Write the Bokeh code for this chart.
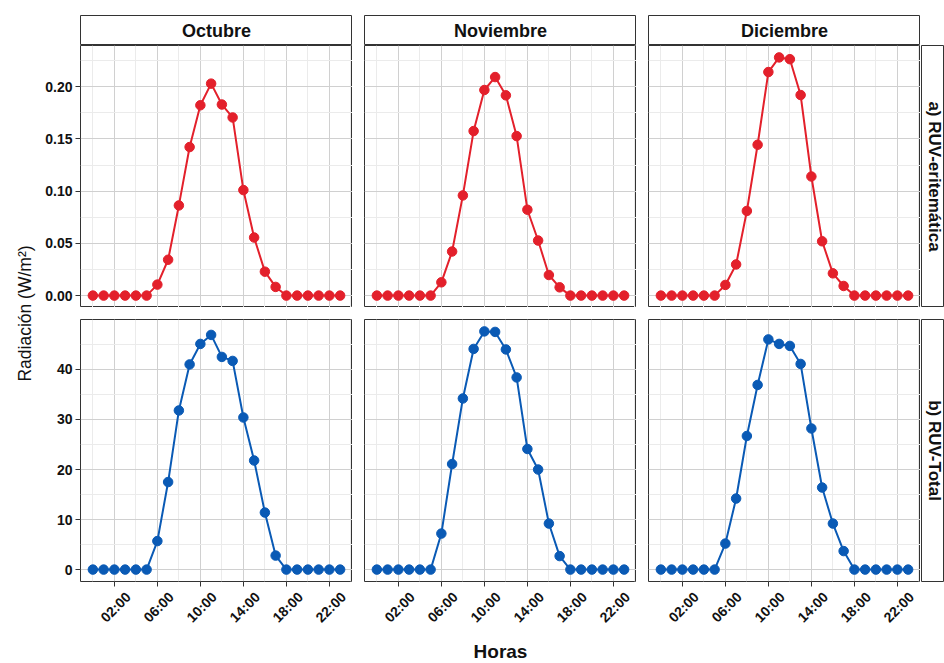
from math import pi

from bokeh.core.properties import value
from bokeh.embed import file_html
from bokeh.layouts import column, row
from bokeh.models import (ColumnDataSource, FixedTicker, Grid, LinearAxis,
                          NumeralTickFormatter, Range1d, Spacer)
from bokeh.plotting import figure
from bokeh.resources import INLINE

# ---- datos: radiación UV horaria media por mes ----
horas = list(range(24))
meses = ["Octubre", "Noviembre", "Diciembre"]
paneles = ["a) RUV-eritemática", "b) RUV-Total"]

eri_octubre = [0, 0, 0, 0, 0, 0, 0.0105, 0.0343, 0.0863, 0.1422, 0.1822, 0.2029,
               0.1829, 0.1705, 0.1010, 0.0556, 0.0229, 0.0083, 0, 0, 0, 0, 0, 0]
eri_noviembre = [0, 0, 0, 0, 0, 0, 0.0127, 0.0422, 0.0959, 0.1575, 0.1968, 0.2092,
                 0.1917, 0.1527, 0.0822, 0.0527, 0.0197, 0.0079, 0, 0, 0, 0, 0, 0]
eri_diciembre = [0, 0, 0, 0, 0, 0, 0.0102, 0.0298, 0.0810, 0.1444, 0.2140, 0.2280,
                 0.2263, 0.1920, 0.1140, 0.0520, 0.0213, 0.0092, 0, 0, 0, 0, 0, 0]

tot_octubre = [0, 0, 0, 0, 0, 0, 5.7, 17.5, 31.8, 41.0, 45.1, 46.9,
               42.5, 41.7, 30.4, 21.8, 11.4, 2.8, 0, 0, 0, 0, 0, 0]
tot_noviembre = [0, 0, 0, 0, 0, 0, 7.2, 21.1, 34.2, 44.1, 47.6, 47.5,
                 44.0, 38.4, 24.1, 20.0, 9.2, 2.7, 0, 0, 0, 0, 0, 0]
tot_diciembre = [0, 0, 0, 0, 0, 0, 5.2, 14.2, 26.7, 36.9, 46.0, 45.1,
                 44.7, 41.1, 28.2, 16.4, 9.2, 3.7, 0, 0, 0, 0, 0, 0]

ticks_horas = [2, 6, 10, 14, 18, 22]
etiquetas_horas = ["02:00", "06:00", "10:00", "14:00", "18:00", "22:00"]
menores_horas = [0, 4, 8, 12, 16, 20, 24]
ticks_eri = [0.0, 0.05, 0.10, 0.15, 0.20]
menores_eri = [0.025, 0.075, 0.125, 0.175, 0.225]
ticks_tot = [0, 10, 20, 30, 40]
menores_tot = [5, 15, 25, 35, 45]

eritematica = [eri_octubre, eri_noviembre, eri_diciembre]
total = [tot_octubre, tot_noviembre, tot_diciembre]

# ---- estilo ----
ROJO = "#E3202B"
AZUL = "#0A5AB5"
BORDE = "#333333"
TEXTO = "#111111"
FUENTE = "Liberation Sans"
GRID_MAYOR = "#d0d0d0"
GRID_MENOR = "#ebebeb"

ANCHO = 272      # ancho de cada panel
ALTO = 262       # alto de cada panel
TIRA = 30        # alto de las tiras de meses
SEP = 12         # separación entre paneles
TITULO_Y = 40    # franja del título del eje y
MARGEN_IZQ = 40  # espacio de las etiquetas del eje y
PIE = 50         # espacio de las etiquetas del eje x
LATERAL = 944 - TITULO_Y - MARGEN_IZQ - 3 * ANCHO - 2 * SEP


def marco(fw, fh, left=0, top=0, right=0, bottom=0, x_range=None, y_range=None, borde=True):
    p = figure(frame_width=fw, frame_height=fh,
               x_range=x_range if x_range is not None else Range1d(0, fw),
               y_range=y_range if y_range is not None else Range1d(0, fh),
               x_axis_type=None, y_axis_type=None, title=None,
               toolbar_location=None, output_backend="svg",
               min_border_left=left, min_border_right=right,
               min_border_top=top, min_border_bottom=bottom)
    p.background_fill_color = "white"
    p.border_fill_color = "white"
    p.outline_line_color = BORDE if borde else None
    p.outline_line_width = 1
    p.outline_line_alpha = 1
    return p


def rotulo(p, x, y, texto, size, angle=0.0, bold=True):
    p.text(x=[x], y=[y], text=[texto], angle=angle,
           text_align="center", text_baseline="middle",
           text_font=value(FUENTE), text_font_size=size,
           text_font_style="bold" if bold else "normal", text_color=TEXTO)


def rango_x():
    pad = 0.05 * (horas[-1] - horas[0])
    return Range1d(horas[0] - pad, horas[-1] + pad)


def rango_y(series):
    lo = min(min(s) for s in series)
    hi = max(max(s) for s in series)
    pad = 0.05 * (hi - lo)
    return Range1d(lo - pad, hi + pad)


def estilo_eje(ax):
    ax.axis_line_color = None
    ax.major_tick_line_color = BORDE
    ax.major_tick_out = 5
    ax.major_tick_in = 0
    ax.minor_tick_line_color = None
    ax.major_label_text_font = FUENTE
    ax.major_label_text_font_style = "bold"
    ax.major_label_text_font_size = "14px"
    ax.major_label_text_color = TEXTO
    ax.major_label_standoff = 3


def panel(p, valores, color, ticks_y, menores_y):
    p.add_layout(Grid(dimension=0, ticker=FixedTicker(ticks=ticks_horas, minor_ticks=menores_horas),
                      grid_line_color=GRID_MAYOR, minor_grid_line_color=GRID_MENOR))
    p.add_layout(Grid(dimension=1, ticker=FixedTicker(ticks=ticks_y, minor_ticks=menores_y),
                      grid_line_color=GRID_MAYOR, minor_grid_line_color=GRID_MENOR))
    src = ColumnDataSource(dict(hora=horas, valor=valores))
    p.line("hora", "valor", source=src, line_color=color, line_width=2)
    p.scatter("hora", "valor", source=src, size=9.5, fill_color=color, line_color=color, line_width=1)


def eje_y(p, ticks_y, formato):
    ax = LinearAxis(ticker=FixedTicker(ticks=ticks_y), formatter=NumeralTickFormatter(format=formato))
    estilo_eje(ax)
    p.add_layout(ax, "left")


def eje_x(p):
    # Las etiquetas giradas se anclan por su extremo derecho; el eje usa un
    # rango desplazado para que queden centradas bajo cada hora, y las marcas
    # (ticks menores) vuelven a caer sobre la hora exacta.
    desplazamiento = 1.3
    p.extra_x_ranges = {"etiquetas": Range1d(p.x_range.start - desplazamiento,
                                             p.x_range.end - desplazamiento)}
    ax = LinearAxis(x_range_name="etiquetas",
                    ticker=FixedTicker(ticks=ticks_horas,
                                       minor_ticks=[h - desplazamiento for h in ticks_horas]),
                    major_label_overrides=dict(zip(ticks_horas, etiquetas_horas)))
    estilo_eje(ax)
    ax.major_tick_out = 0
    ax.major_tick_line_color = None
    ax.minor_tick_line_color = BORDE
    ax.minor_tick_out = 5
    ax.minor_tick_in = 0
    ax.major_label_standoff = 8
    ax.major_label_orientation = pi / 4
    p.add_layout(ax, "below")


columnas = []
for j, mes in enumerate(meses):
    izq = MARGEN_IZQ if j == 0 else SEP

    tira = marco(ANCHO, TIRA, left=izq, top=15)
    rotulo(tira, ANCHO / 2, TIRA / 2, mes, "18px")

    sup = marco(ANCHO, ALTO, left=izq, x_range=rango_x(), y_range=rango_y(eritematica))
    panel(sup, eritematica[j], ROJO, ticks_eri, menores_eri)

    inf = marco(ANCHO, ALTO, left=izq, top=SEP, bottom=PIE, x_range=rango_x(), y_range=rango_y(total))
    panel(inf, total[j], AZUL, ticks_tot, menores_tot)
    eje_x(inf)

    if j == 0:
        eje_y(sup, ticks_eri, "0.00")
        eje_y(inf, ticks_tot, "0")

    columnas.append(column(tira, sup, inf, spacing=0))

# tiras laterales de cada variable
ancho_tira = LATERAL - 1
tira_a = marco(ancho_tira, ALTO, left=1)
rotulo(tira_a, ancho_tira / 2 + 1, ALTO / 2, paneles[0], "17px", angle=-pi / 2)
tira_b = marco(ancho_tira, ALTO, left=1, top=SEP, bottom=PIE)
rotulo(tira_b, ancho_tira / 2 + 1, ALTO / 2, paneles[1], "17px", angle=-pi / 2)
lateral = column(Spacer(width=LATERAL, height=15 + TIRA), tira_a, tira_b, spacing=0)

# título del eje y
alto_total = 15 + TIRA + ALTO + SEP + ALTO + PIE
titulo_y = marco(TITULO_Y, alto_total, borde=False)
rotulo(titulo_y, 24, alto_total - (15 + TIRA + (2 * ALTO + SEP) / 2), "Radiación (W/m²)", "17.5px",
       angle=pi / 2, bold=False)

# título del eje x
titulo_x = marco(944, 32, borde=False)
rotulo(titulo_x, TITULO_Y + MARGEN_IZQ + (3 * ANCHO + 2 * SEP) / 2, 15, "Horas", "19px")

graf = column(row(titulo_y, *columnas, lateral, spacing=0), titulo_x, spacing=0)

open("out.html", "w").write(file_html(graf, INLINE))
